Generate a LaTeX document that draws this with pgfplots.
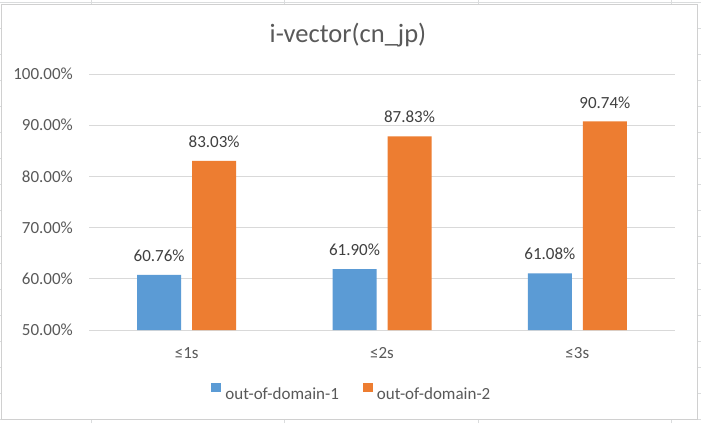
\documentclass[border=0pt]{standalone}
\usepackage{fontspec}
\setmainfont{Carlito}
\usepackage{pgfplots}
\pgfplotsset{compat=1.18}

\definecolor{xblue}{HTML}{5B9BD5}
\definecolor{xorange}{HTML}{ED7D31}
\definecolor{gridgray}{HTML}{D9D9D9}
\definecolor{cellgray}{HTML}{DADCDD}
\definecolor{framegray}{HTML}{D0D0D0}
\definecolor{labelgray}{HTML}{595959}
\definecolor{valgray}{HTML}{404040}

\begin{document}
\begin{tikzpicture}[x=1pt,y=1pt]
  \path[use as bounding box] (0,0) rectangle (701,423);
  % spreadsheet cells behind the chart
  \foreach \x in {91,284,478,671}
    \draw[cellgray, line width=0.8pt] (\x,0) -- (\x,423);
  \foreach \k in {0,...,16}
    \draw[cellgray, line width=0.8pt] (0,{421-26.1*\k}) -- (701,{421-26.1*\k});
  % chart area
  \filldraw[fill=white, draw=framegray, line width=0.8pt] (1,4) rectangle (697,419);
  \node[anchor=base, text=labelgray, font=\fontsize{26.5}{30}\selectfont] at (348,380) {i-vector(cn\_jp)};

  \begin{axis}[
    at={(89pt,93pt)}, anchor=south west,
    scale only axis, width=586pt, height=256pt,
    ybar, bar width=44pt,
    xmin=-0.5, xmax=2.5,
    ymin=50, ymax=100,
    xtick={0,1,2},
    xticklabels={≤1s,≤2s,≤3s},
    ytick={50,60,...,100},
    yticklabel={\pgfmathprintnumber[fixed,fixed zerofill,precision=2]{\tick}\%},
    /pgf/number format/assume math mode=true,
    axis line style={draw=none},
    major tick length=0pt,
    ymajorgrids,
    grid style={draw=gridgray, line width=0.8pt},
    tick label style={font=\fontsize{17}{20}\selectfont, text=labelgray},
    yticklabel style={anchor=east, inner sep=0pt, xshift=-16pt},
    xticklabel style={anchor=north, inner sep=0pt, yshift=-17pt},
    nodes near coords={\pgfmathprintnumber[fixed,fixed zerofill,precision=2]{\pgfplotspointmeta}\%},
    every node near coord/.append style={font=\fontsize{17}{20}\selectfont, text=valgray, inner sep=0pt, yshift=13pt},
    legend columns=2,
    legend image code/.code={\fill[#1] (0pt,2pt) rectangle (10pt,11pt);},
    legend style={at={(0.447,-0.242)}, anchor=center, draw=none, fill=none,
      font=\fontsize{17}{20}\selectfont, text=labelgray,
      nodes={inner sep=0pt},
      /tikz/every odd column/.append style={column sep=4pt},
      /tikz/every even column/.append style={column sep=24pt}},
  ]
    \addplot[fill=xblue, draw=none, bar shift=-27.5pt]
      coordinates {(0,60.76) (1,61.90) (2,61.08)};
    \addplot[fill=xorange, draw=none, bar shift=27.5pt]
      coordinates {(0,83.03) (1,87.83) (2,90.74)};
    \legend{out-of-domain-1,out-of-domain-2}
  \end{axis}
\end{tikzpicture}
\end{document}
